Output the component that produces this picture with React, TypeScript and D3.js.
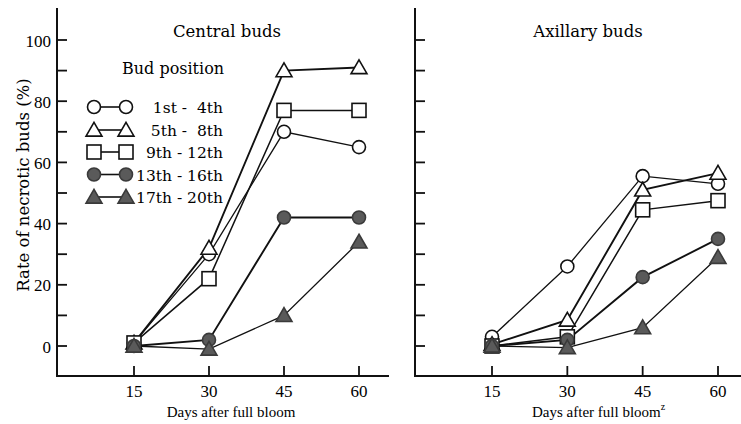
import React from "react";
import * as d3 from "d3";

const days = [15, 30, 45, 60];
const yTicks = [0, 10, 20, 30, 40, 50, 60, 70, 80, 90, 100];
const yLabels = [0, 20, 40, 60, 80, 100];
const seriesNames = ["1st -  4th", "5th -  8th", "9th - 12th", "13th - 16th", "17th - 20th"];
const seriesShapes = ["circle", "triangle", "square", "circle", "triangle"];
const seriesFilled = [false, false, false, true, true];
const seriesWidths = [1.3, 1.9, 1.5, 1.9, 1.3];

const centralValues = [
  [1, 30, 70, 65],
  [1, 32, 90, 91],
  [1, 22, 77, 77],
  [0, 2, 42, 42],
  [0, -1, 10, 34],
];
const axillaryValues = [
  [3, 26, 55.5, 53],
  [0.5, 8.5, 51, 56.5],
  [0, 3, 44.5, 47.5],
  [0, 2, 22.5, 35],
  [0, -0.5, 6, 29],
];

const W = 741;
const H = 424;
const SERIF = "'DejaVu Serif', serif";
const TSERIF = "'Liberation Serif', 'Times New Roman', serif";

const y = d3.scaleLinear().domain([0, 100]).range([346, 40]);

function Marker({ shape, filled, cx, cy }: { shape: string; filled: boolean; cx: number; cy: number }) {
  const fill = filled ? "#5a5a5a" : "#ffffff";
  const stroke = filled ? "#3a3a3a" : "#111";
  if (shape === "circle") {
    return <circle cx={cx} cy={cy} r={6.5} fill={fill} stroke={stroke} strokeWidth={1.6} />;
  }
  if (shape === "square") {
    return <rect x={cx - 7} y={cy - 7} width={14} height={14} fill={fill} stroke={stroke} strokeWidth={1.6} />;
  }
  const sym = d3.symbol().type(d3.symbolTriangle).size(110)();
  return <path d={sym || ""} transform={`translate(${cx},${cy + 1.5})`} fill={fill} stroke={stroke} strokeWidth={1.6} strokeLinejoin="miter" />;
}

function Panel({
  x0,
  x15,
  x60,
  xEnd,
  values,
  title,
  titleX,
  showYLabels,
}: {
  x0: number;
  x15: number;
  x60: number;
  xEnd: number;
  values: number[][];
  title: string;
  titleX: number;
  showYLabels: boolean;
}) {
  const x = d3.scaleLinear().domain([15, 60]).range([x15, x60]);
  const line = d3
    .line<number>()
    .x((_, i) => x(days[i]))
    .y((v) => y(v));
  return (
    <g>
      <line x1={x0} y1={8} x2={x0} y2={376.5} stroke="#111" strokeWidth={2} />
      <line x1={x0 - 1} y1={376} x2={xEnd} y2={376} stroke="#111" strokeWidth={2} />
      {yTicks.map((t) => (
        <line key={t} x1={x0} x2={x0 + 10} y1={y(t)} y2={y(t)} stroke="#111" strokeWidth={1.8} />
      ))}
      {showYLabels &&
        yLabels.map((t) => (
          <text key={t} x={x0 - 6} y={y(t) + 6.5} textAnchor="end" fontFamily={TSERIF} fontSize={17} fill="#000">
            {t}
          </text>
        ))}
      {days.map((d) => (
        <g key={d}>
          <line x1={x(d)} x2={x(d)} y1={366} y2={376} stroke="#111" strokeWidth={1.8} />
          <text x={x(d)} y={397} textAnchor="middle" fontFamily={TSERIF} fontSize={17} fill="#000">
            {d}
          </text>
        </g>
      ))}
      <text x={titleX} y={37} textAnchor="middle" fontFamily={SERIF} fontSize={16.5} fill="#000">
        {title}
      </text>
      {values.map((vals, s) => (
        <path key={"l" + s} d={line(vals) || ""} fill="none" stroke="#111" strokeWidth={seriesWidths[s]} />
      ))}
      {values.map((vals, s) => (
        <g key={"m" + s}>
          {vals.map((v, i) => (
            <Marker key={i} shape={seriesShapes[s]} filled={seriesFilled[s]} cx={x(days[i])} cy={y(v)} />
          ))}
        </g>
      ))}
    </g>
  );
}

export default function App() {
  const legendRows = [107, 130, 152, 174.5, 197];
  return (
    <svg width={W} height={H} style={{ position: "absolute", left: 0, top: 0, background: "#fff" }}>
      <rect x={0} y={0} width={W} height={H} fill="#fff" />
      <Panel x0={57} x15={134} x60={359} xEnd={389} values={centralValues} title="Central buds" titleX={227} showYLabels={true} />
      <Panel x0={415} x15={492} x60={718} xEnd={741} values={axillaryValues} title="Axillary buds" titleX={588} showYLabels={false} />
      <text
        transform="translate(29,185) rotate(-90)"
        textAnchor="middle"
        fontFamily={SERIF}
        fontSize={16.5}
        fill="#000"
      >
        Rate of necrotic buds (%)
      </text>
      <text x={231} y={417} textAnchor="middle" fontFamily={TSERIF} fontSize={15} fill="#000">
        Days after full bloom
      </text>
      <text x={532} y={417} textAnchor="start" fontFamily={TSERIF} fontSize={15} fill="#000">
        Days after full bloom
        <tspan fontSize={10} dy={-7}>z</tspan>
      </text>
      <text x={122} y={74} fontFamily={SERIF} fontSize={16} fill="#000">
        Bud position
      </text>
      {seriesNames.map((name, s) => (
        <g key={name}>
          <line x1={94} x2={126} y1={legendRows[s]} y2={legendRows[s]} stroke="#111" strokeWidth={1.6} />
          <Marker shape={seriesShapes[s]} filled={seriesFilled[s]} cx={94} cy={legendRows[s]} />
          <Marker shape={seriesShapes[s]} filled={seriesFilled[s]} cx={126} cy={legendRows[s]} />
          <text
            x={223}
            y={legendRows[s] + 6}
            textAnchor="end"
            fontFamily={SERIF}
            fontSize={15.5}
            fill="#000"
            style={{ whiteSpace: "pre" }}
          >
            {name}
          </text>
        </g>
      ))}
    </svg>
  );
}
